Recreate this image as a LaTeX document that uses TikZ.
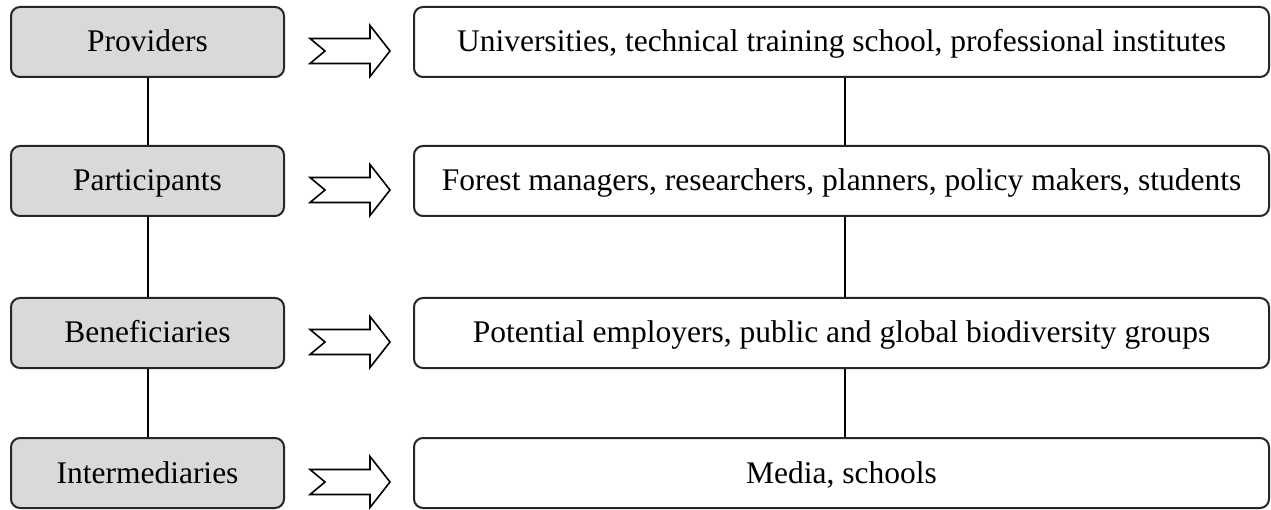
\documentclass[tikz,border=0pt]{standalone}
\usepackage{fontspec}
\setmainfont{Liberation Serif}
\begin{document}
\begin{tikzpicture}[x=1pt,y=-1pt,
  lbox/.style={draw=black!85, line width=2pt, rounded corners=9pt, fill=black!15,
    minimum width=273pt, minimum height=70pt, inner sep=0pt, text height=20pt, text depth=0pt,
    font=\fontsize{31.5}{36}\selectfont},
  rbox/.style={draw=black!85, line width=2pt, rounded corners=9pt, fill=white,
    minimum width=855pt, minimum height=70pt, inner sep=0pt, text height=20pt, text depth=0pt,
    font=\fontsize{31.5}{36}\selectfont},
  link/.style={draw=black, line width=2pt},
  fatarrow/.style={draw=black, line width=1.6pt, fill=white, line join=miter}
]
\useasboundingbox (0,0) rectangle (1271,510);
\foreach \n/\y/\l/\r in {a/42/Providers/{Universities, technical training school, professional institutes},
                          b/181/Participants/{Forest managers, researchers, planners, policy makers, students},
                          c/333/Beneficiaries/{Potential employers, public and global biodiversity groups},
                          d/473/Intermediaries/{Media, schools}}{
  \node[lbox] (L\n) at (147.5,\y) {\l};
  \node[rbox] (R\n) at (841.5,\y) {\r};
  \coordinate (A\n) at (310,\y+9);
  \draw[fatarrow] (A\n) ++(0,-12.5) -- ++(60,0) -- ++(0,-13) -- ++(20,25.5) -- ++(-20,25.5)
     -- ++(0,-13) -- ++(-60,0) -- ++(15,-12.5) -- cycle;
}
\draw[link] (La) -- (Lb);
\draw[link] (Lb) -- (Lc);
\draw[link] (Lc) -- (Ld);
\draw[link] ([xshift=3.5pt]Ra.south) -- ([xshift=3.5pt]Rb.north);
\draw[link] ([xshift=3.5pt]Rb.south) -- ([xshift=3.5pt]Rc.north);
\draw[link] ([xshift=3.5pt]Rc.south) -- ([xshift=3.5pt]Rd.north);
\end{tikzpicture}
\end{document}
